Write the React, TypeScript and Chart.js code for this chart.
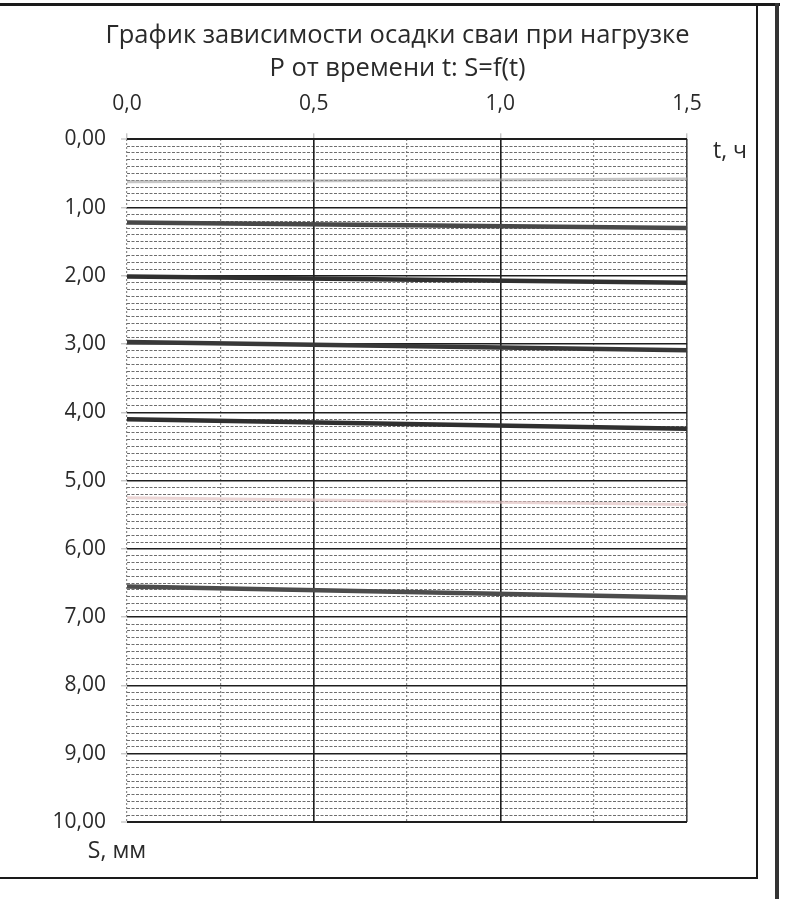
import React, { useEffect, useRef } from "react";
import { Chart, registerables } from "chart.js";

Chart.register(...registerables);

// ---- data ----
const titleLines = ["График зависимости осадки сваи при нагрузке", "P от времени t: S=f(t)"];
const xAxisLabel = "t, ч";
const yAxisLabel = "S, мм";
const timeValues = [0, 1.5];
const settlement1 = [1.22, 1.3];
const settlement2 = [2.01, 2.1];
const settlement3 = [2.97, 3.09];
const settlement4 = [4.1, 4.24];
const settlement5 = [6.55, 6.71];
const faintTrace1 = [0.62, 0.58];
const faintTrace2 = [5.25, 5.35];
const tMin = 0;
const tMax = 1.5;
const tMajorStep = 0.5;
const tMinorStep = 0.25;
const sMin = 0;
const sMax = 10;
const sMajorStep = 1;
const sMinorStep = 0.1;

const FONT = "'Open Sans', 'DejaVu Sans', sans-serif";
const TEXT = "#2a2a2a";

const toPoints = (ys: number[]) => timeValues.map((t, i) => ({ x: t, y: ys[i] }));
const isMultiple = (v: number, step: number) => Math.abs(v / step - Math.round(v / step)) < 1e-6;
const fmt = (v: number, d: number) => v.toFixed(d).replace(".", ",");

const axisTitles = {
  id: "axisTitles",
  afterDraw(chart: any) {
    const { ctx, chartArea } = chart;
    ctx.save();
    ctx.fillStyle = TEXT;
    ctx.font = `23px ${FONT}`;
    ctx.textAlign = "center";
    ctx.textBaseline = "middle";
    ctx.fillText(xAxisLabel, chartArea.right + 43, chartArea.top + 12);
    ctx.fillText(yAxisLabel, chartArea.left - 10, chartArea.bottom + 29);
    ctx.restore();
  },
};

export default function App() {
  const ref = useRef<HTMLCanvasElement | null>(null);

  useEffect(() => {
    if (!ref.current) return;
    const lineDs = (label: string, ys: number[], color: string, width: number) => ({
      label,
      data: toPoints(ys),
      borderColor: color,
      backgroundColor: color,
      borderWidth: width,
      pointRadius: 0,
      tension: 0,
      xAxisID: "x",
      yAxisID: "y",
    });
    const chart = new Chart(ref.current, {
      type: "line",
      data: {
        datasets: [
          lineDs("trace a", faintTrace1, "rgba(160,160,160,0.6)", 3),
          lineDs("trace b", faintTrace2, "rgba(225,190,190,0.65)", 3),
          lineDs("S1", settlement1, "#484848", 4.5),
          lineDs("S2", settlement2, "#303030", 4.5),
          lineDs("S3", settlement3, "#383838", 4.5),
          lineDs("S4", settlement4, "#303030", 4.5),
          lineDs("S5", settlement5, "#4c4c4c", 4.5),
        ],
      },
      options: {
        responsive: false,
        animation: false,
        layout: { padding: { top: 9, left: 0, right: 0, bottom: 77 } },
        plugins: {
          legend: { display: false },
          tooltip: { enabled: false },
          title: {
            display: true,
            text: titleLines,
            color: TEXT,
            font: { family: FONT, size: 25.5, weight: "normal", lineHeight: 1.3 },
            padding: { top: 10, bottom: 0 },
          },
        },
        scales: {
          x: {
            type: "linear",
            position: "top",
            min: tMin,
            max: tMax,
            afterFit: (s: any) => { s.height = 54; },
            ticks: {
              stepSize: tMajorStep,
              padding: 17,
              color: TEXT,
              font: { family: FONT, size: 21 },
              maxRotation: 0,
              callback: (v: any) => fmt(Number(v), 1),
            },
            grid: {
              z: -1,
              color: (c: any) => (c.tick && Math.abs(c.tick.value) < 1e-6 ? "rgba(0,0,0,0)" : c.tick && Math.abs(c.tick.value - tMax) < 1e-6 ? "#444" : "#1e1e1e"),
              lineWidth: 1.6,
              tickLength: 6,
              tickColor: "#b0b0b0",
              tickWidth: 1,
            },
            border: { display: false },
          },
          xMinor: {
            type: "linear",
            position: "top",
            min: tMin,
            max: tMax,
            afterFit: (s: any) => { s.height = 0; },
            ticks: { display: false, stepSize: tMinorStep },
            grid: { z: -2, color: "#8a8a8a", lineWidth: 1.2, drawTicks: false },
            border: { display: false, dash: [2, 2] },
          },
          y: {
            type: "linear",
            position: "left",
            reverse: true,
            min: sMin,
            max: sMax,
            afterFit: (s: any) => { s.width = 127; },
            ticks: {
              stepSize: sMajorStep,
              padding: 15,
              color: TEXT,
              font: { family: FONT, size: 21 },
              callback: (v: any) => fmt(Number(v), 2),
            },
            grid: {
              z: -1,
              color: "#1e1e1e",
              lineWidth: (c: any) => (c.tick && (c.tick.value === sMin || c.tick.value === sMax) ? 2 : 1.6),
              tickLength: 6,
              tickColor: "#b0b0b0",
              tickWidth: 1,
            },
            border: { display: false },
          },
          yMinor: {
            type: "linear",
            position: "left",
            reverse: true,
            min: sMin,
            max: sMax,
            afterFit: (s: any) => { s.width = 0; },
            ticks: { display: false, stepSize: sMinorStep, autoSkip: false, maxTicksLimit: 200 },
            grid: {
              z: -2,
              color: (c: any) => (c.tick && isMultiple(c.tick.value, sMajorStep) ? "rgba(0,0,0,0)" : "#6e6e6e"),
              lineWidth: 1,
              drawTicks: false,
            },
            border: { display: false, dash: [3, 1.5] },
          },
          yRight: {
            type: "linear",
            position: "right",
            min: sMin,
            max: sMax,
            afterFit: (s: any) => { s.width = 108; },
            ticks: { display: false },
            grid: { display: false, drawOnChartArea: false, drawTicks: false },
            border: { display: false },
          },
        },
      } as any,
      plugins: [axisTitles],
    });
    return () => chart.destroy();
  }, []);

  return (
    <div style={{ position: "fixed", left: 0, top: 0, width: 795, height: 899, background: "#fff", overflow: "hidden" }}>
      <canvas ref={ref} width={795} height={899} style={{ position: "absolute", left: 0, top: 0 }} />
      <div style={{ position: "absolute", left: 0, top: 3, width: 780, height: 3, background: "#1a1a1a" }} />
      <div style={{ position: "absolute", left: 756, top: 5, width: 2, height: 874, background: "#1a1a1a" }} />
      <div style={{ position: "absolute", left: 0, top: 877, width: 758, height: 2, background: "#1a1a1a" }} />
      <div style={{ position: "absolute", left: 775, top: 3, width: 4, height: 896, background: "#333" }} />
    </div>
  );
}
